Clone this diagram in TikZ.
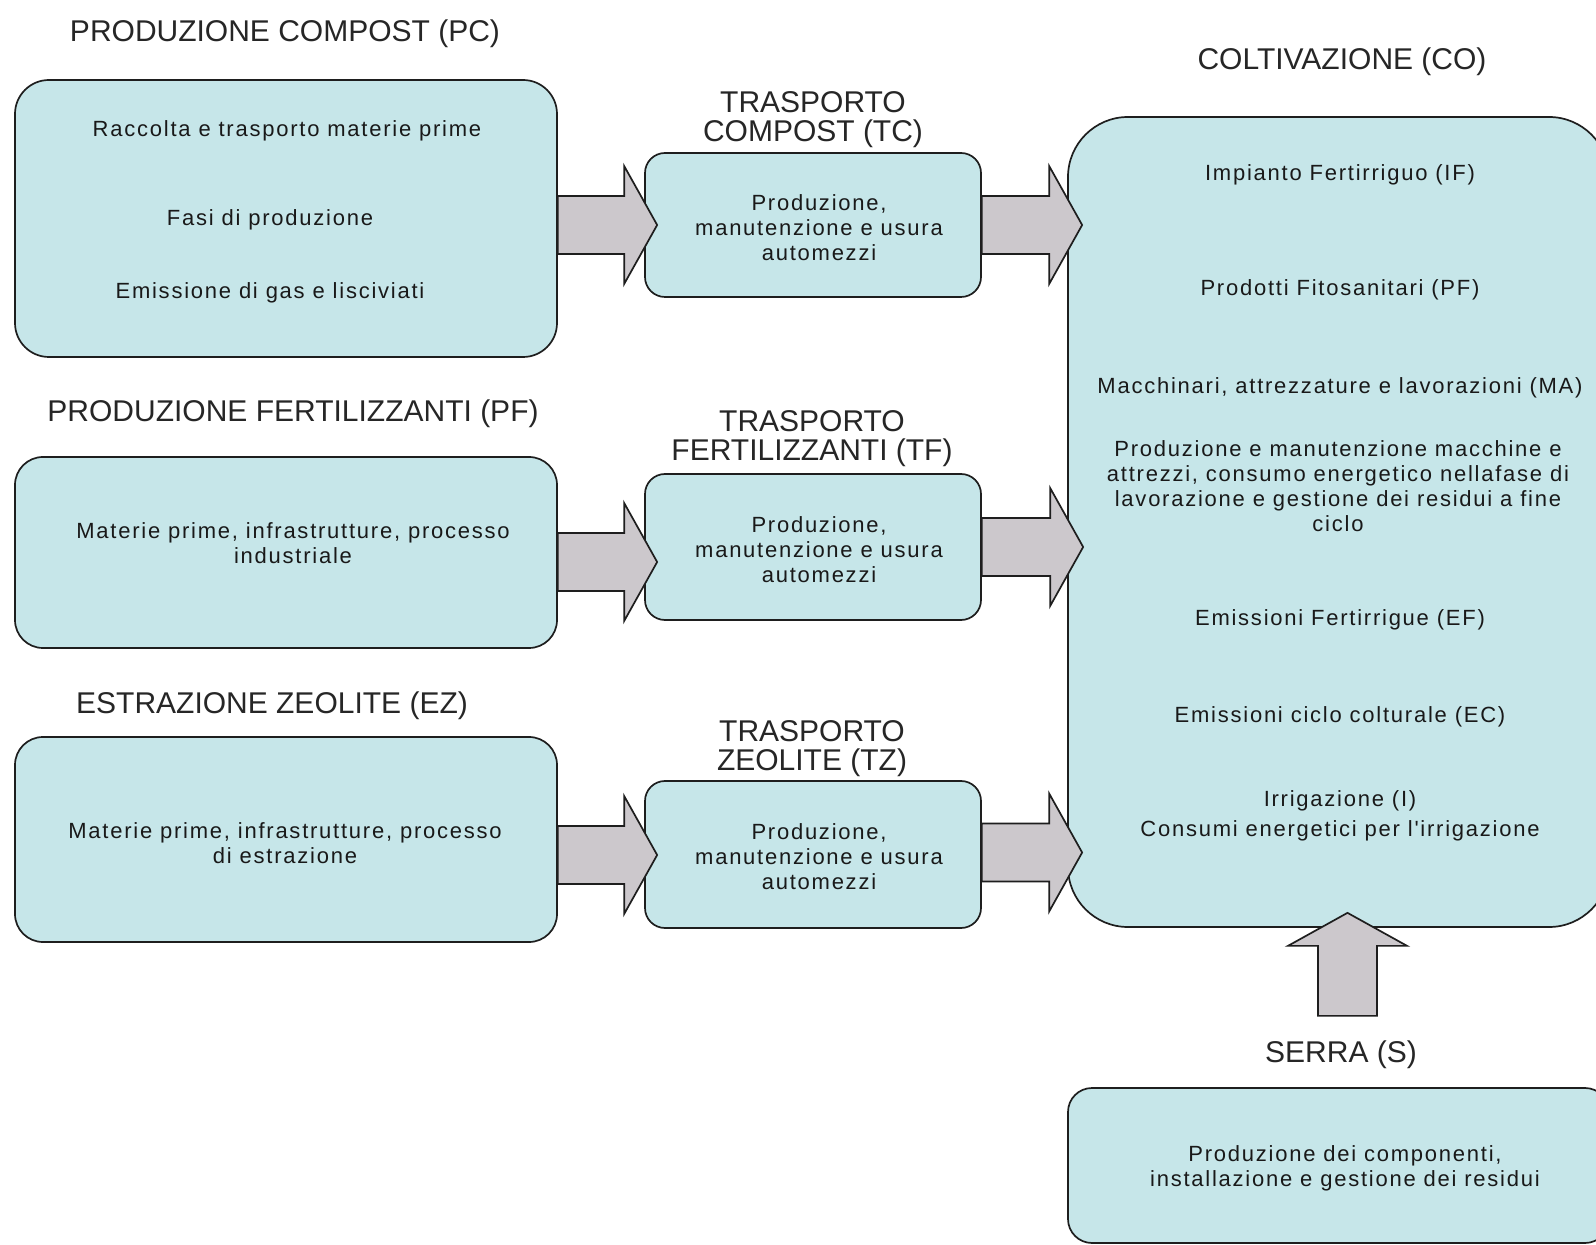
\documentclass[tikz,border=0pt]{standalone}
\usepackage{fontspec}
\setmainfont{Liberation Sans}
\newfontfamily\boxfont[LetterSpace=8]{Liberation Sans}
\usetikzlibrary{calc}
\definecolor{cbox}{HTML}{C6E6E9}
\definecolor{carrow}{HTML}{CCC8CC}
\definecolor{cline}{HTML}{1E1E1E}
\tikzset{
  box/.style={draw=cline, line width=0.85pt, fill=cbox, rounded corners=10pt, inner sep=0pt},
  ttl/.style={font=\fontsize{15}{14.5}\selectfont, align=center, inner sep=0pt, text=black!85},
  txt/.style={font=\boxfont\fontsize{11}{12.5}\selectfont, align=center, inner sep=0pt, text=black!90},
  blk/.style={draw=cline, line width=0.85pt, fill=carrow, line join=miter},
}
% block arrow pointing right: shaft start, tip
\newcommand{\rblock}[2]{%
  \path (#1) coordinate (s0) (#2) coordinate (t) (s0 |- t) coordinate (s);
  \draw[blk] ($(s)+(0,-29)$) -- ($(t)+(-33,-29)$) -- ($(t)+(-33,-59)$) -- (t)
    -- ($(t)+(-33,59)$) -- ($(t)+(-33,29)$) -- ($(s)+(0,29)$) -- cycle;}
% block arrow pointing up: shaft start, tip
\newcommand{\ublock}[2]{%
  \path (#1) coordinate (s0) (#2) coordinate (t) (t |- s0) coordinate (s);
  \draw[blk] ($(s)+(-29.5,0)$) -- ($(t)+(-29.5,33)$) -- ($(t)+(-59.5,33)$) -- (t)
    -- ($(t)+(59.5,33)$) -- ($(t)+(29.5,33)$) -- ($(s)+(29.5,0)$) -- cycle;}

\begin{document}
\begin{tikzpicture}[x=0.5pt,y=-0.5pt]
\useasboundingbox (0,0) rectangle (1596,1245);
\clip (0,0) rectangle (1596,1245);
\fill[white] (0,0) rectangle (1596,1245);

% left column
\node[ttl] (tpc) at (285,34) {PRODUZIONE COMPOST (PC)};
\node[box, minimum width=271pt, minimum height=138.5pt, rounded corners=17pt] (pc) at (286,218.5) {};
\node[ttl] (tpf) at (293,414) {PRODUZIONE FERTILIZZANTI (PF)};
\node[box, minimum width=271pt, minimum height=95.5pt, rounded corners=14pt] (pf) at (286,552.5) {};
\node[ttl] (tez) at (272,706) {ESTRAZIONE ZEOLITE (EZ)};
\node[box, minimum width=271pt, minimum height=102.5pt, rounded corners=14pt] (ez) at (286,839.5) {};

% transport column
\node[ttl] (ttc) at (813,120) {TRASPORTO\\COMPOST (TC)};
\node[box, minimum width=168pt, minimum height=72pt] (tc) at (813,225) {};
\node[ttl] (ttf) at (812,439) {TRASPORTO\\FERTILIZZANTI (TF)};
\node[box, minimum width=168pt, minimum height=73pt] (tf) at (813,547) {};
\node[ttl] (ttz) at (812,749) {TRASPORTO\\ZEOLITE (TZ)};
\node[box, minimum width=168pt, minimum height=73.5pt] (tz) at (813,854.5) {};

% cultivation and greenhouse
\node[ttl] (tco) at (1342,62) {COLTIVAZIONE (CO)};
\node[box, minimum width=270.5pt, minimum height=405pt, rounded corners=30pt] (co) at (1338.5,522) {};
\node[ttl] (tse) at (1341,1055) {SERRA (S)};
\node[box, minimum width=270.5pt, minimum height=77.5pt, rounded corners=12pt] (se) at (1338.5,1165.5) {};

% arrows
\rblock{pc.east}{$(tc.west)+(13,0)$}
\rblock{tc.east}{$(co.west |- tc.east)+(15,0)$}
\rblock{pf.east}{$(tf.west)+(13,15)$}
\rblock{tf.east}{$(co.west |- tf.east)+(16,0)$}
\rblock{ez.east}{$(tz.west)+(13,0.5)$}
\rblock{tz.east}{$(co.west |- tz.east)+(15,-2)$}
\ublock{$(co.south)+(9,88)$}{$(co.south)+(9,-15)$}

% texts
\node[txt] (pc1) at (287,131) {Raccolta e trasporto materie prime};
\node[txt] (pc2) at (270,220) {Fasi di produzione};
\node[txt] (pc3) at (270,293) {Emissione di gas e lisciviati};
\node[txt] (pf1) at (293,543.5) {Materie prime, infrastrutture, processo\\industriale};
\node[txt] (ez1) at (285,843.5) {Materie prime, infrastrutture, processo\\di estrazione};
\node[txt] (tc1) at (819,228) {Produzione,\\manutenzione e usura\\automezzi};
\node[txt] (tf1) at (819,550) {Produzione,\\manutenzione e usura\\automezzi};
\node[txt] (tz1) at (819,857) {Produzione,\\manutenzione e usura\\automezzi};
\node[txt] (co1) at (1340,175) {Impianto Fertirriguo (IF)};
\node[txt] (co2) at (1340,290) {Prodotti Fitosanitari (PF)};
\node[txt] (co3) at (1340,388) {Macchinari, attrezzature e lavorazioni (MA)};
\node[txt] (co4) at (1338,486.5) {Produzione e manutenzione macchine e\\attrezzi, consumo energetico nellafase di\\lavorazione e gestione dei residui a fine\\ciclo};
\node[txt] (co5) at (1340,620) {Emissioni Fertirrigue (EF)};
\node[txt] (co6) at (1340,717) {Emissioni ciclo colturale (EC)};
\node[txt] (co7) at (1340,816) {Irrigazione (I)\\[2.5pt]Consumi energetici per l'irrigazione};
\node[txt] (se1) at (1345,1168) {Produzione dei componenti,\\installazione e gestione dei residui};
\end{tikzpicture}
\end{document}
